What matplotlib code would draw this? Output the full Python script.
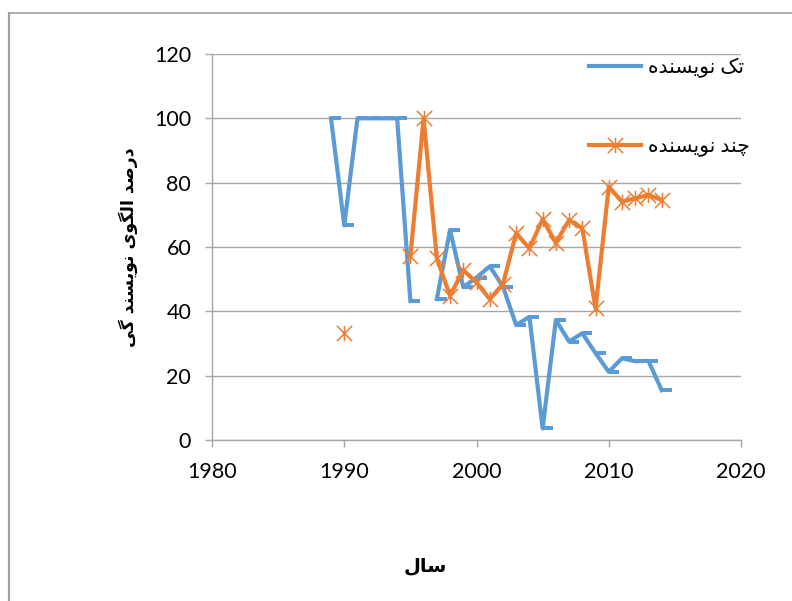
import numpy as np
import matplotlib.pyplot as plt
from matplotlib.path import Path
from matplotlib.lines import Line2D

nan = np.nan

years = list(range(1989, 2015))
single = [100, 66.7, 100, 100, 100, 100, 43.2, nan, 43.8, 65.3, 47.5, 50.5, 54.0,
          47.7, 35.7, 38.3, 3.6, 37.3, 30.6, 33.2, 27.0, 21.2, 25.4, 24.5, 24.6, 15.5]
multi = [nan, 33.3, nan, nan, nan, nan, 57.1, 100, 56.5, 44.8, 52.8, 49.0, 43.8,
         48.5, 64.3, 59.6, 68.6, 61.3, 68.4, 65.8, 40.9, 78.7, 74.1, 75.1, 76.2, 74.6]

label_single = 'تک نویسنده'
label_multi = 'چند نویسنده'
xlabel = 'سال'
ylabel = 'درصد الگوی نویسند گی'

# matplotlib has no arabic shaping, so pick presentation forms by hand
FORMS = {
    'ت': '\uFE95\uFE96\uFE97\uFE98',
    'ک': '\uFB8E\uFB8F\uFB90\uFB91',
    'ن': '\uFEE5\uFEE6\uFEE7\uFEE8',
    'ی': '\uFBFC\uFBFD\uFBFE\uFBFF',
    'س': '\uFEB1\uFEB2\uFEB3\uFEB4',
    'ه': '\uFEE9\uFEEA\uFEEB\uFEEC',
    'چ': '\uFB7A\uFB7B\uFB7C\uFB7D',
    'ص': '\uFEB9\uFEBA\uFEBB\uFEBC',
    'ل': '\uFEDD\uFEDE\uFEDF\uFEE0',
    'گ': '\uFB92\uFB93\uFB94\uFB95',
    'و': '\uFEED\uFEEE',
    'د': '\uFEA9\uFEAA',
    'ر': '\uFEAD\uFEAE',
    'ا': '\uFE8D\uFE8E',
}


def shape(text):
    out = []
    for i, c in enumerate(text):
        if c not in FORMS:
            out.append(c)
            continue
        f = FORMS[c]
        prev = text[i - 1] if i > 0 else ''
        nxt = text[i + 1] if i + 1 < len(text) else ''
        jp = prev in FORMS and len(FORMS[prev]) == 4
        jn = nxt in FORMS and len(f) == 4
        if jp and jn:
            out.append(f[3])
        elif jp:
            out.append(f[1])
        elif jn:
            out.append(f[2])
        else:
            out.append(f[0])
    return ''.join(reversed(out))


plt.rcParams['font.family'] = ['Lato', 'DejaVu Sans']

blue = '#5B9BD5'
orange = '#ED7D31'

dash = Path([(0, -0.22), (1, -0.22), (1, 0.22), (0, 0.22), (0, -0.22)],
            [Path.MOVETO, Path.LINETO, Path.LINETO, Path.LINETO, Path.CLOSEPOLY])
star = Path([(0, -1), (0, 1), (-1, -1), (1, 1), (-1, 1), (1, -1)],
            [Path.MOVETO, Path.LINETO, Path.MOVETO, Path.LINETO, Path.MOVETO, Path.LINETO])

fig = plt.figure(figsize=(7.92, 6.01), dpi=100)
ax = fig.add_axes([212 / 792, 1 - 440 / 601, 529 / 792, 386 / 601])

ax.plot(years, single, color=blue, lw=3, marker=dash, ms=14,
        mfc=blue, mec=blue, mew=0, label=shape(label_single), zorder=3)
ax.plot(years, multi, color=orange, lw=3, marker=star, ms=11,
        mfc='none', mec=orange, mew=1.1, label=shape(label_multi), zorder=4)

ax.set_xlim(1980, 2020)
ax.set_ylim(0, 120)
ax.set_xticks(range(1980, 2021, 10))
ax.set_yticks(range(0, 121, 20))
ax.yaxis.grid(True, color='#a6a6a6', lw=1)
ax.set_axisbelow(True)
for s in ['top', 'right']:
    ax.spines[s].set_visible(False)
for s in ['left', 'bottom']:
    ax.spines[s].set_color('#a6a6a6')
    ax.spines[s].set_linewidth(1)
ax.tick_params(axis='both', direction='out', length=5, width=1, color='#a6a6a6',
               labelsize=15.5, labelcolor='black')
ax.tick_params(axis='y', pad=10)
ax.tick_params(axis='x', pad=11)

leg = ax.legend(loc='upper left', bbox_to_anchor=(589 / 792, 1 - 58 / 601),
                bbox_transform=fig.transFigure, frameon=False, fontsize=14.5,
                labelspacing=2.95, handlelength=2.6, handletextpad=0.35,
                borderpad=0, borderaxespad=0)

fig.text(128 / 792, 1 - 247 / 601, shape(ylabel), rotation=90, ha='center', va='center',
         fontsize=12.5, fontweight='bold', family=['DejaVu Sans'])
fig.text(425 / 792, 1 - 566 / 601, shape(xlabel), ha='center', va='center',
         fontsize=14, fontweight='bold', family=['DejaVu Sans'])

# chart border of the original, left and top edges only
fig.add_artist(Line2D([9 / 792, 9 / 792], [0, 1 - 13 / 601], transform=fig.transFigure,
                      color='#a0a0a0', lw=1.6))
fig.add_artist(Line2D([9 / 792, 1], [1 - 13 / 601, 1 - 13 / 601], transform=fig.transFigure,
                      color='#a0a0a0', lw=1.2))

fig.savefig('out.png', dpi=100)
